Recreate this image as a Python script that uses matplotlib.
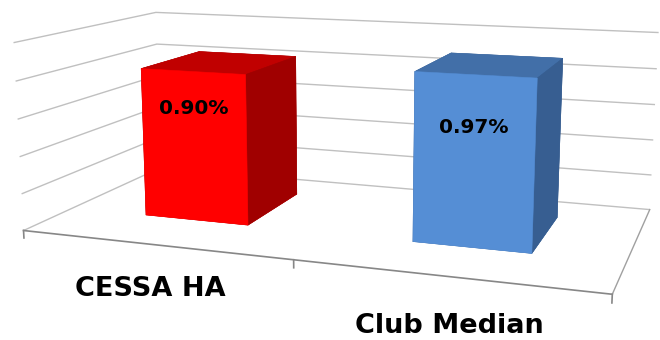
import numpy as np
import matplotlib
matplotlib.use('Agg')
import matplotlib.pyplot as plt

categories = ['CESSA HA', 'Club Median']
values = [0.90, 0.97]
value_labels = ['0.90%', '0.97%']
grid_levels = [0.0, 0.22, 0.44, 0.66, 0.88, 1.1]

# face order used by bar3d: bottom, top, front, back, left, right
bar_faces = [
    ['#C00000', '#C00000', '#FF0000', '#A00000', '#A00000', '#A00000'],
    ['#426FA8', '#426FA8', '#558ED5', '#375E91', '#375E91', '#375E91'],
]

bar_w = 0.4
bar_d = 0.46
bar_front = 0.32
depth = 1.0
label_z = 0.68

fig = plt.figure(figsize=(6.6, 3.4), dpi=100)
# square 3d axes as wide as the figure
ax = fig.add_axes([0.011, -0.379, 1, 660 / 340], projection='3d')
ax.view_init(elev=11.5, azim=-70.5)
ax.set_proj_type('persp', focal_length=0.35)
ax.set_box_aspect((2, 1.0, 0.65), zoom=0.98)

n = len(categories)
ax.set_xlim(0, n)
ax.set_ylim(0, depth)
ax.set_zlim(0, grid_levels[-1])

# walls: no fill, only the value gridlines
for axis in (ax.xaxis, ax.yaxis, ax.zaxis):
    axis.set_pane_color((1, 1, 1, 0))
    axis.line.set_visible(False)
    axis.label.set_visible(False)
    axis.offsetText.set_visible(False)
    axis._axinfo['tick']['inward_factor'] = 0
    axis._axinfo['tick']['outward_factor'] = 0
    axis._axinfo['grid']['color'] = '#C0C0C0'
    axis._axinfo['grid']['linewidth'] = 1.0
ax.set_xticks([])
ax.set_yticks([])
ax.set_zticks(grid_levels)
ax.set_zticklabels([])

# floor front edge (category axis) with tick marks, and right floor edge
ax.plot([0, n], [0, 0], [0, 0], color='#878787', lw=1.2)
ax.plot([n, n], [0, depth], [0, 0], color='#A0A0A0', lw=1.0)
for k in range(n + 1):
    ax.plot([k, k], [0, 0], [0, -0.045], color='#878787', lw=1.2)

xs = np.arange(n) + (1 - bar_w) / 2
colors = [c for faces in bar_faces for c in faces]
ax.bar3d(xs, [bar_front] * n, [0] * n, bar_w, bar_d, values,
         color=colors, edgecolor=colors, linewidth=0.4, shade=False)

for i, lab in enumerate(value_labels):
    ax.text(i + 0.5, bar_front, label_z, lab, ha='center', va='center',
            fontsize=14.5, fontweight='bold', color='black', zorder=10)

for i, cat in enumerate(categories):
    ax.text(i + 0.54, -0.1, -0.2, cat, ha='center', va='center',
            fontsize=19.5, fontweight='bold', color='black', zorder=10)

fig.savefig('out.png', dpi=100, facecolor='white')
